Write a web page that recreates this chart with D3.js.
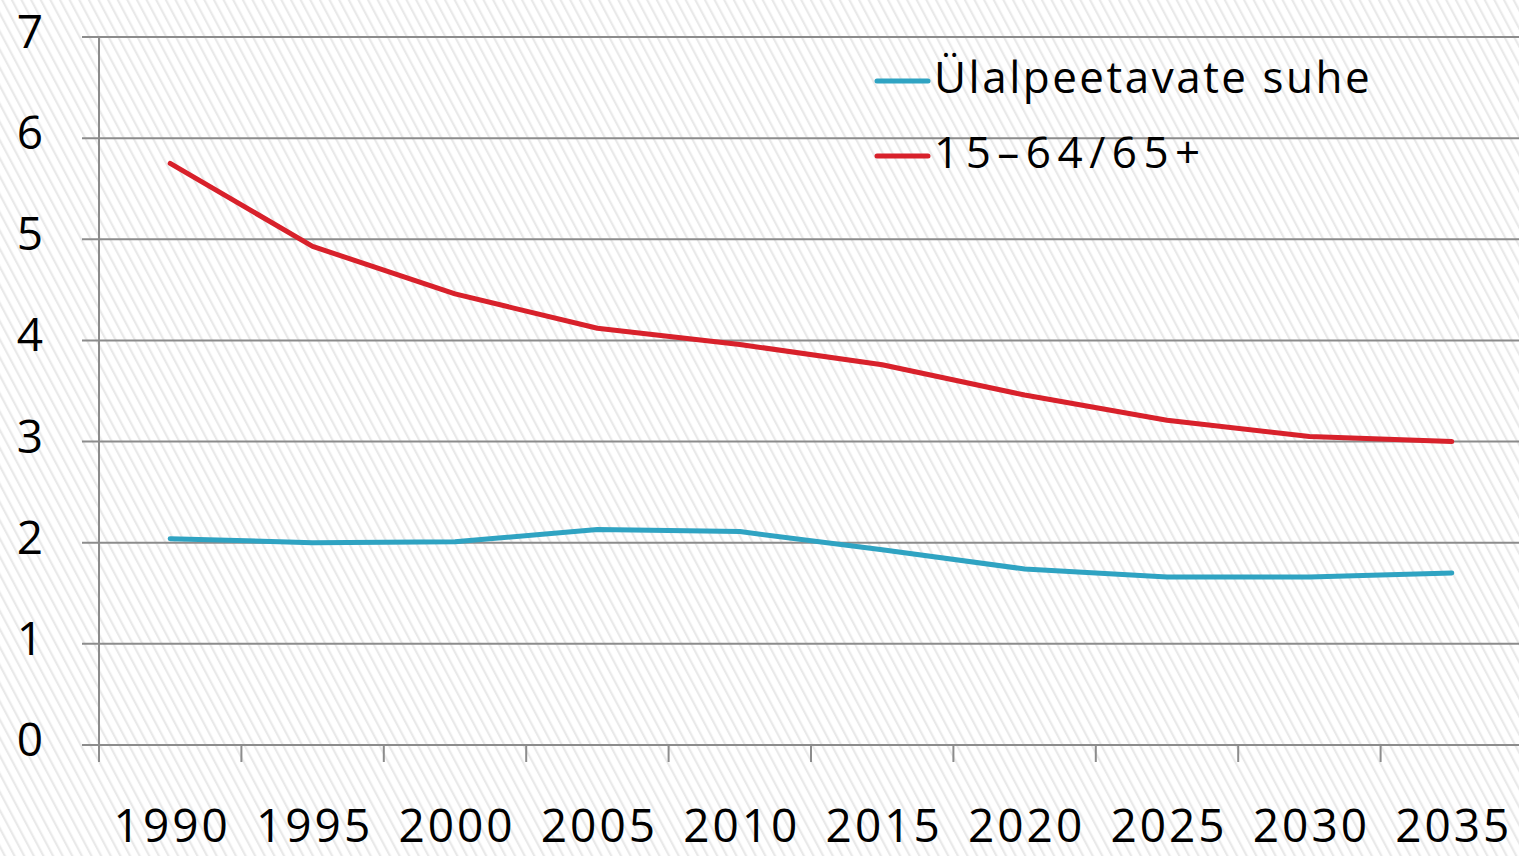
<!DOCTYPE html>
<html>
<head>
<meta charset="utf-8">
<script src="https://cdn.jsdelivr.net/npm/d3@7"></script>
<style>
  html, body { margin: 0; padding: 0; background: #fff; overflow: hidden; }
  svg { display: block; font-family: "Open Sans", "DejaVu Sans", sans-serif; }
</style>
</head>
<body>
<svg id="chart"></svg>
<script>
// data
var years = ["1990", "1995", "2000", "2005", "2010", "2015", "2020", "2025", "2030", "2035"];
var dependency = [2.04, 2.00, 2.01, 2.13, 2.11, 1.93, 1.74, 1.66, 1.66, 1.70];
var workToOld = [5.75, 4.93, 4.46, 4.12, 3.96, 3.76, 3.46, 3.21, 3.05, 3.00];
var yTicks = [0, 1, 2, 3, 4, 5, 6, 7];
var seriesNames = ["Ülalpeetavate suhe", "15–64/65+"];
var seriesColors = ["#2fa3c2", "#d8212b"];

var W = 1519, H = 856;
var plotLeft = 99, plotRight = 1523, plotTop = 37, plotBottom = 745;

var svg = d3.select("#chart").attr("width", W).attr("height", H);

// hatched background
var defs = svg.append("defs");
var pat = defs.append("pattern")
    .attr("id", "hatch")
    .attr("patternUnits", "userSpaceOnUse")
    .attr("width", 8.5).attr("height", 8.5)
    .attr("patternTransform", "rotate(-28)");
pat.append("rect").attr("width", 8.5).attr("height", 8.5).attr("fill", "#ffffff");
pat.append("line")
    .attr("x1", 2).attr("y1", 0).attr("x2", 2).attr("y2", 8.5)
    .attr("stroke", "#e9e9e9").attr("stroke-width", 2.2);

svg.append("rect").attr("width", W).attr("height", H).attr("fill", "url(#hatch)");

var x = d3.scaleBand().domain(years).range([plotLeft, plotRight]);
var y = d3.scaleLinear().domain([0, 7]).range([plotBottom, plotTop]);

// horizontal gridlines
svg.append("g")
    .selectAll("line")
    .data(yTicks)
    .join("line")
    .attr("x1", plotLeft - 17).attr("x2", W)
    .attr("y1", function(d) { return y(d); })
    .attr("y2", function(d) { return y(d); })
    .attr("stroke", "#8c8c8c").attr("stroke-width", 2);

// y axis line
svg.append("line")
    .attr("x1", plotLeft).attr("x2", plotLeft)
    .attr("y1", plotTop).attr("y2", plotBottom + 17)
    .attr("stroke", "#8c8c8c").attr("stroke-width", 2);

// x ticks between categories
svg.append("g")
    .selectAll("line")
    .data(years.slice(1))
    .join("line")
    .attr("x1", function(d) { return x(d); })
    .attr("x2", function(d) { return x(d); })
    .attr("y1", plotBottom).attr("y2", plotBottom + 17)
    .attr("stroke", "#8c8c8c").attr("stroke-width", 2);

// y labels
svg.append("g")
    .selectAll("text")
    .data(yTicks)
    .join("text")
    .attr("x", 43)
    .attr("y", function(d) { return y(d) + 11; })
    .attr("text-anchor", "end")
    .attr("font-size", 46)
    .attr("fill", "#000")
    .text(function(d) { return d; });

// x labels
svg.append("g")
    .selectAll("text")
    .data(years)
    .join("text")
    .attr("x", function(d) { return x(d) + x.bandwidth() / 2 + 2; })
    .attr("y", 842)
    .attr("text-anchor", "middle")
    .attr("font-size", 46)
    .attr("letter-spacing", 3)
    .attr("fill", "#000")
    .text(function(d) { return d; });

// lines
var line = d3.line()
    .x(function(d, i) { return x(years[i]) + x.bandwidth() / 2; })
    .y(function(d) { return y(d); });

[dependency, workToOld].forEach(function(vals, k) {
  svg.append("path")
      .datum(vals)
      .attr("fill", "none")
      .attr("stroke", seriesColors[k])
      .attr("stroke-width", 5)
      .attr("stroke-linejoin", "round")
      .attr("stroke-linecap", "round")
      .attr("d", line);
});

// legend
var legend = svg.append("g");
seriesNames.forEach(function(name, k) {
  var ly = 81 + k * 75;
  legend.append("line")
      .attr("x1", 877).attr("x2", 928)
      .attr("y1", ly).attr("y2", ly)
      .attr("stroke", seriesColors[k])
      .attr("stroke-width", 5)
      .attr("stroke-linecap", "round");
  legend.append("text")
      .attr("x", 934).attr("y", ly + 12)
      .attr("font-size", 44)
      .attr("letter-spacing", k === 1 ? 6.5 : 2.5)
      .attr("fill", "#000")
      .text(name);
});
</script>
</body>
</html>
